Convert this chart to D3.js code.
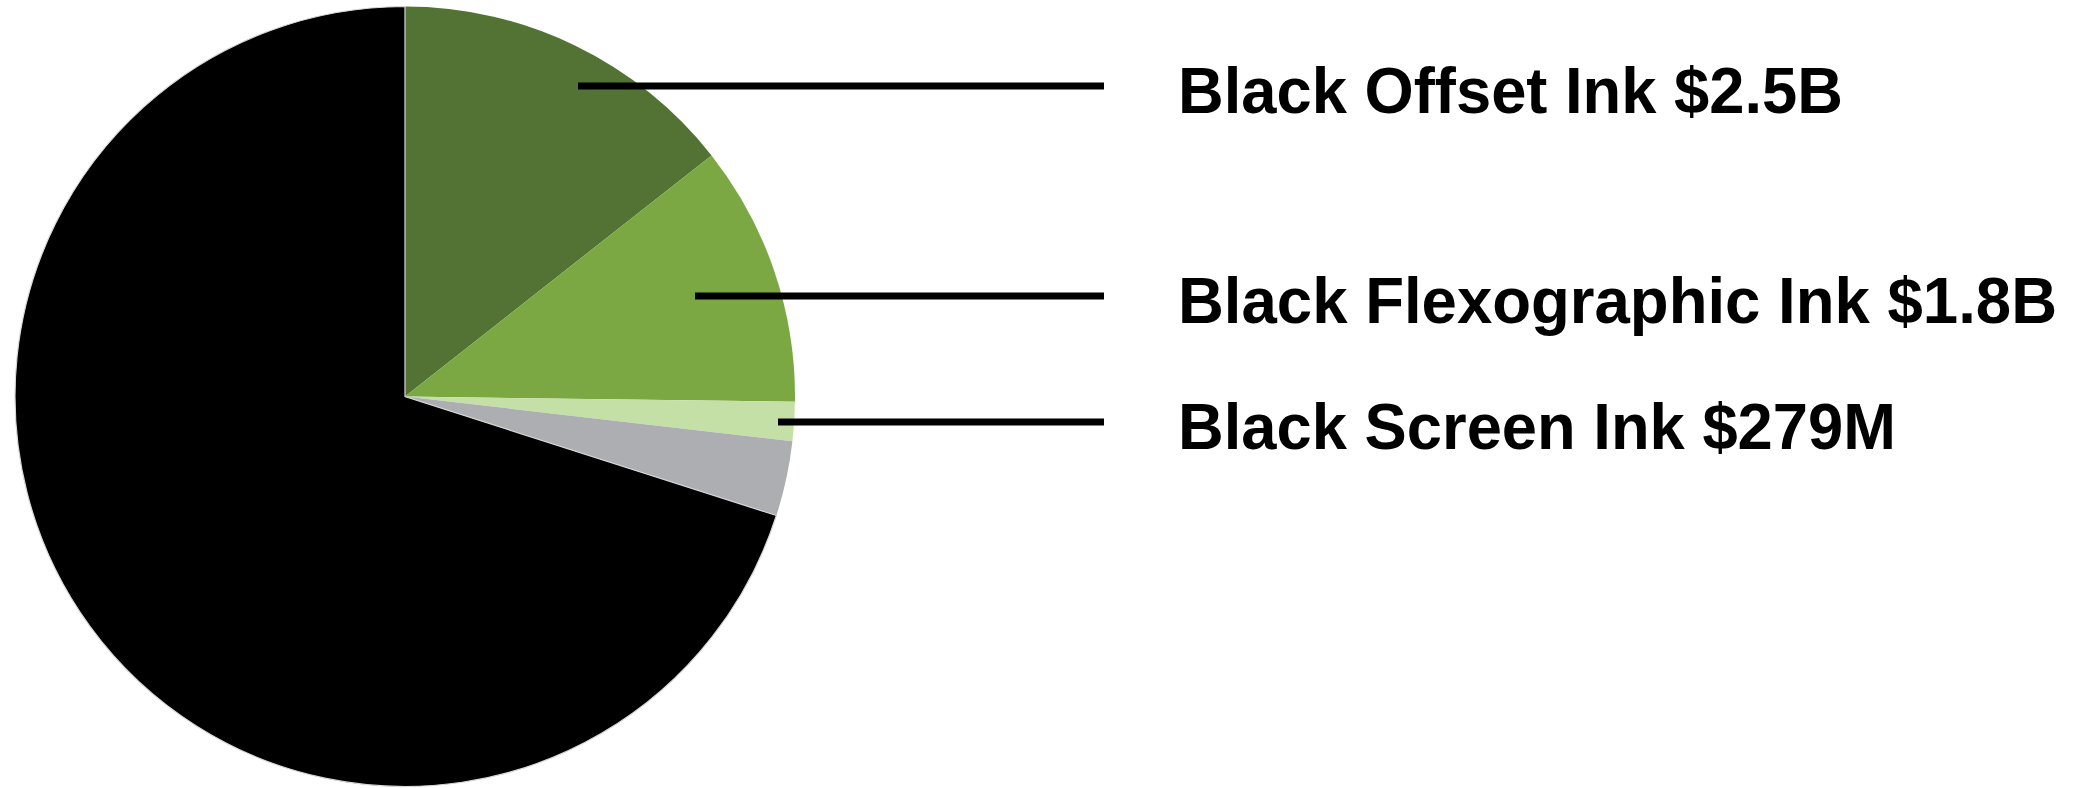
<!DOCTYPE html>
<html>
<head>
<meta charset="utf-8">
<script src="https://cdn.jsdelivr.net/npm/d3@7"></script>
<style>
  html, body { margin: 0; padding: 0; background: #fff; }
  svg { display: block; }
</style>
</head>
<body>
<div id="chart"></div>
<script>
// slices, clockwise from 12 o'clock (values in $B)
var categories = ["Black Offset Ink", "Black Flexographic Ink", "Black Screen Ink", "Other Black Ink", "Other Ink"];
var values = [2.5, 1.88, 0.28, 0.54, 12.17];
var labels = ["Black Offset Ink $2.5B", "Black Flexographic Ink $1.8B", "Black Screen Ink $279M", null, null];
var colors = ["#537334", "#7ba843", "#c5e0a7", "#adaeb1", "#000000"];

var w = 2088, h = 788;
var cx = 405, cy = 396.5, radius = 390;

// leader lines: start point (x, y) for each labelled slice, end x shared
var leaders = [[578, 86], [695, 296], [778, 422]];
var leaderEnd = 1104;
var textX = 1178;
var textWidths = [665, 879, 718]; // the original font is a bit narrower than ours

var svg = d3.select("#chart")
  .append("svg")
  .attr("width", w)
  .attr("height", h);

var pie = d3.pie().sort(null).value(function(d) { return d; });
var arc = d3.arc().innerRadius(0).outerRadius(radius);
var color = d3.scaleOrdinal().domain(categories).range(colors);

var arcs = pie(values);

var g = svg.append("g").attr("transform", "translate(" + cx + "," + cy + ")");

g.selectAll("path")
  .data(arcs)
  .enter()
  .append("path")
  .attr("d", arc)
  .attr("fill", function(d, i) { return color(categories[i]); })
  .attr("stroke", function(d, i) { return i == 4 ? "#d8d8d8" : "none"; })
  .attr("stroke-width", 1.2);

var labelled = labels.filter(function(l) { return l; });

svg.selectAll("line.leader")
  .data(labelled)
  .enter()
  .append("line")
  .attr("class", "leader")
  .attr("x1", function(d, i) { return leaders[i][0]; })
  .attr("y1", function(d, i) { return leaders[i][1]; })
  .attr("x2", leaderEnd)
  .attr("y2", function(d, i) { return leaders[i][1]; })
  .attr("stroke", "#000")
  .attr("stroke-width", 7);

svg.selectAll("text.label")
  .data(labelled)
  .enter()
  .append("text")
  .attr("class", "label")
  .text(function(d) { return d; })
  .attr("x", textX)
  .attr("y", function(d, i) { return leaders[i][1] + 27; })
  .attr("textLength", function(d, i) { return textWidths[i]; })
  .attr("lengthAdjust", "spacingAndGlyphs")
  .attr("font-family", "'Liberation Sans', Arial, sans-serif")
  .attr("font-weight", "bold")
  .attr("font-size", "65px")
  .attr("fill", "#000");
</script>
</body>
</html>
